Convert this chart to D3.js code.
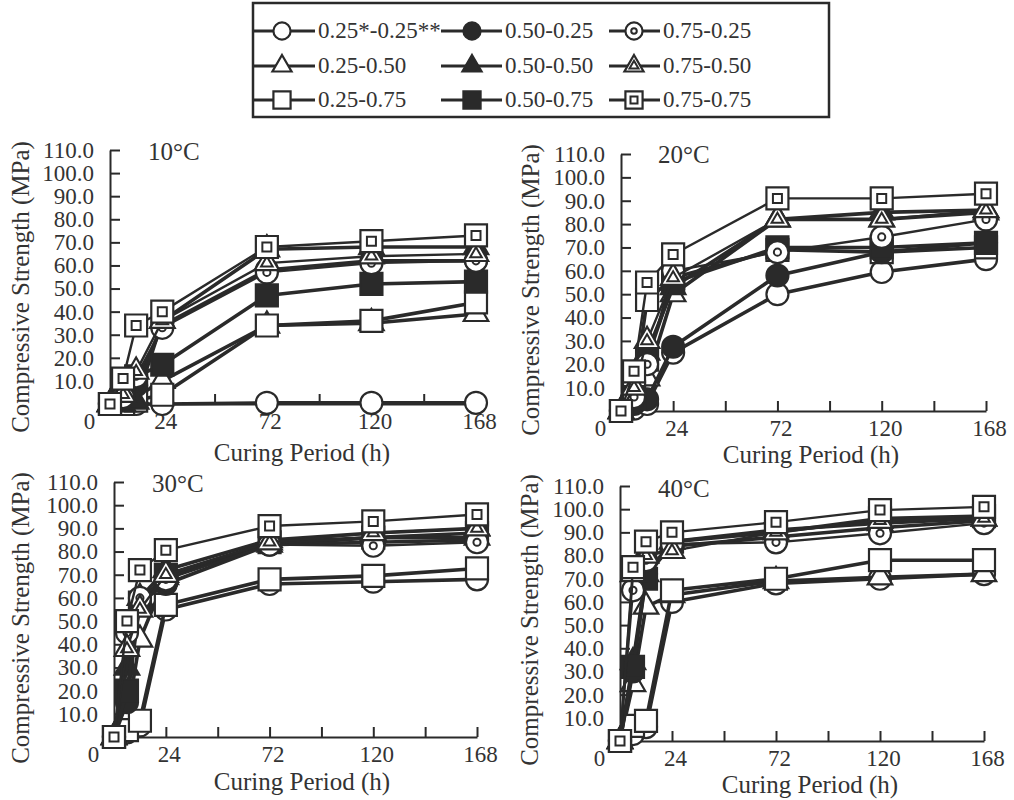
<!DOCTYPE html>
<html>
<head>
<meta charset="utf-8">
<script src="https://cdn.jsdelivr.net/npm/d3@7"></script>
<style>
  body { margin: 0; background: #fff; }
  svg text { font-family: "Liberation Serif", "Times New Roman", serif; fill: #333; }
</style>
</head>
<body>
<div id="chart"></div>
<script>
// curing time of each reading (h)
const hours = [0, 6, 12, 24, 72, 120, 168];

// legend order: row by second ratio, column by first ratio
const seriesNames = [
  "0.25*-0.25**", "0.50-0.25", "0.75-0.25",
  "0.25-0.50", "0.50-0.50", "0.75-0.50",
  "0.25-0.75", "0.50-0.75", "0.75-0.75"
];

// compressive strength (MPa), one row per series above
const strength10C = [
  [0, 0, 0, 0, 0.5, 0.5, 0.5],
  [0, 2, 8, 34, 58, 62, 62],
  [0, 3, 12, 33, 57, 61, 62],
  [0, 1, 3, 10, 34, 35, 39],
  [0, 0, 1, 36, 67, 68, 68],
  [0, 4, 14, 36, 61, 64, 65],
  [0, 0, 1.5, 4, 34, 36, 44],
  [0, 8, 12, 17, 47, 52, 53],
  [0, 11, 34, 40, 68, 70.5, 73]
];
const strength20C = [
  [0, 1, 3, 25, 50, 59.5, 65],
  [0, 3, 5, 27.5, 58, 68, 72],
  [0, 6, 20, 60, 68, 74.5, 82],
  [0, 5, 14, 50, 82, 82, 85],
  [0, 8, 25, 53, 82, 85, 86],
  [0, 10, 30, 57, 82, 82, 86],
  [0, 8, 47.5, 57, 69, 68, 70],
  [0, 6, 22, 55, 70, 70, 72],
  [0, 17, 55, 67, 91, 91, 93]
];
const strength30C = [
  [0, 2, 5, 55, 66, 67, 68],
  [0, 15, 58, 66, 83, 84, 85],
  [0, 45, 60, 68, 83, 82.5, 84],
  [0, 8, 42, 69, 83, 86, 86],
  [0, 30, 60, 72, 85, 88, 90],
  [0, 38, 55, 70, 84, 88, 90],
  [0, 3, 7, 57, 68, 69.5, 72.7],
  [0, 20, 58, 70, 84, 86, 88],
  [0, 50, 72, 80.6, 91, 93, 96]
];
const strength40C = [
  [0, 3, 6, 60, 68, 70, 72],
  [0, 30, 72, 84, 88, 92, 95],
  [0, 65, 78, 85, 85.7, 89.6, 94],
  [0, 24.6, 58, 63, 69, 70.6, 72],
  [0, 34, 72, 86, 91, 94, 96],
  [0, 72, 80, 82, 90, 95, 96],
  [0, 6.5, 8.7, 65, 70, 78, 78],
  [0, 32, 70, 86, 90, 96, 97],
  [0, 75, 86, 90, 94.4, 99.6, 101]
];

const xTickValues = [0, 24, 48, 72, 96, 120, 144, 168];
const xTickLabels = [24, 72, 120, 168];
const yTickValues = [10, 20, 30, 40, 50, 60, 70, 80, 90, 100, 110];

const ink = "#2a2a2a";
const serif = '"Liberation Serif", "Times New Roman", serif';
const width = 1014;
const height = 800;

const svg = d3.select("#chart")
  .append("svg")
  .attr("width", width)
  .attr("height", height)
  .attr("viewBox", [0, 0, width, height])
  .attr("font-family", serif);

const shapes = [d3.symbolCircle, d3.symbolTriangle, d3.symbolSquare];
const outerSize = [380, 260, 484];
const innerSize = [40, 58, 81];

function drawMarker(g, x, y, i, k) {
  const s = Math.floor(i / 3);     // shape row
  const style = i % 3;             // 0 open, 1 filled, 2 double
  g.append("path")
    .attr("transform", `translate(${x},${y})`)
    .attr("d", d3.symbol(shapes[s], outerSize[s] * k * k)())
    .attr("fill", style === 1 ? ink : "#fff")
    .attr("stroke", ink)
    .attr("stroke-width", 2.2);
  if (style === 2) {
    g.append("path")
      .attr("transform", `translate(${x},${y})`)
      .attr("d", d3.symbol(shapes[s], innerSize[s] * k * k)())
      .attr("fill", "#fff")
      .attr("stroke", ink)
      .attr("stroke-width", 2);
  }
}

const panels = [
  { title: "10°C", data: strength10C, xr: [110, 476], yr: [404, 150], tx: 148, ty: 160, xlx: 302, xly: 461, ylx: 29, yly: 287 },
  { title: "20°C", data: strength20C, xr: [621, 986], yr: [411, 154], tx: 658, ty: 163, xlx: 811, xly: 463, ylx: 539, yly: 290 },
  { title: "30°C", data: strength30C, xr: [114, 477], yr: [737, 482], tx: 152, ty: 492, xlx: 302, xly: 790, ylx: 29, yly: 618 },
  { title: "40°C", data: strength40C, xr: [620, 984], yr: [741, 486], tx: 658, ty: 497, xlx: 810, xly: 793, ylx: 538, yly: 620 }
];

// drawing order: by first ratio, then second (double squares end on top)
const drawOrder = [0, 3, 6, 1, 4, 7, 2, 5, 8];

panels.forEach((p) => {
  const x = d3.scaleLinear().domain([0, 168]).range(p.xr);
  const y = d3.scaleLinear().domain([0, 110]).range(p.yr);
  const g = svg.append("g");

  const xAxis = g.append("g")
    .attr("transform", `translate(0,${p.yr[0]})`)
    .call(
      d3.axisBottom(x)
        .tickValues(xTickValues)
        .tickSizeInner(-10)
        .tickSizeOuter(0)
        .tickPadding(9)
        .tickFormat((d) => (d === 0 || xTickLabels.includes(d) ? d : ""))
    );
  xAxis.selectAll("text")
    .attr("dx", (d) => (d === 0 ? -21 : 3));

  const yAxis = g.append("g")
    .attr("transform", `translate(${p.xr[0]},0)`)
    .call(
      d3.axisLeft(y)
        .tickValues(yTickValues)
        .tickSizeInner(-10)
        .tickSizeOuter(0)
        .tickPadding(16)
        .tickFormat(d3.format(".1f"))
    );

  [xAxis, yAxis].forEach((a) => {
    a.attr("font-family", serif).attr("font-size", 23);
    a.selectAll("text").style("font-family", serif).style("font-size", "23px").attr("fill", "#333");
    a.selectAll("path, line").attr("stroke", ink).attr("stroke-width", 2);
  });

  const line = d3.line()
    .x((d, j) => x(hours[j]))
    .y((d) => y(d));

  drawOrder.forEach((i) => {
    g.append("path")
      .datum(p.data[i])
      .attr("fill", "none")
      .attr("stroke", ink)
      .attr("stroke-width", i % 3 === 2 ? 2.4 : 3.6)
      .attr("stroke-linejoin", "round")
      .attr("d", line);
    p.data[i].forEach((v, j) => drawMarker(g, x(hours[j]), y(v), i, 1));
  });

  g.append("text")
    .attr("x", p.tx)
    .attr("y", p.ty)
    .style("font-size", "25px")
    .text(p.title);

  g.append("text")
    .attr("x", p.xlx)
    .attr("y", p.xly)
    .attr("text-anchor", "middle")
    .style("font-size", "25px")
    .text("Curing Period (h)");

  g.append("text")
    .attr("transform", `translate(${p.ylx},${p.yly}) rotate(-90)`)
    .attr("text-anchor", "middle")
    .style("font-size", "25px")
    .text("Compressive Strength (MPa)");
});

// legend
const legend = svg.append("g");
legend.append("rect")
  .attr("x", 253)
  .attr("y", 3)
  .attr("width", 576)
  .attr("height", 114)
  .attr("fill", "#fff")
  .attr("stroke", ink)
  .attr("stroke-width", 2.5);

const legCols = [
  { x0: 254, x1: 315, mx: 282, tx: 318 },
  { x0: 441, x1: 502, mx: 472, tx: 505 },
  { x0: 609, x1: 660, mx: 634, tx: 663 }
];
const legRows = [31, 66, 100];

seriesNames.forEach((name, i) => {
  const c = legCols[i % 3];
  const ry = legRows[Math.floor(i / 3)];
  legend.append("line")
    .attr("x1", c.x0).attr("x2", c.x1)
    .attr("y1", ry).attr("y2", ry)
    .attr("stroke", ink)
    .attr("stroke-width", 3);
  drawMarker(legend, c.mx, ry, i, 0.78);
  legend.append("text")
    .attr("x", c.tx)
    .attr("y", ry + 7)
    .style("font-size", "23px")
    .text(name);
});
</script>
</body>
</html>
